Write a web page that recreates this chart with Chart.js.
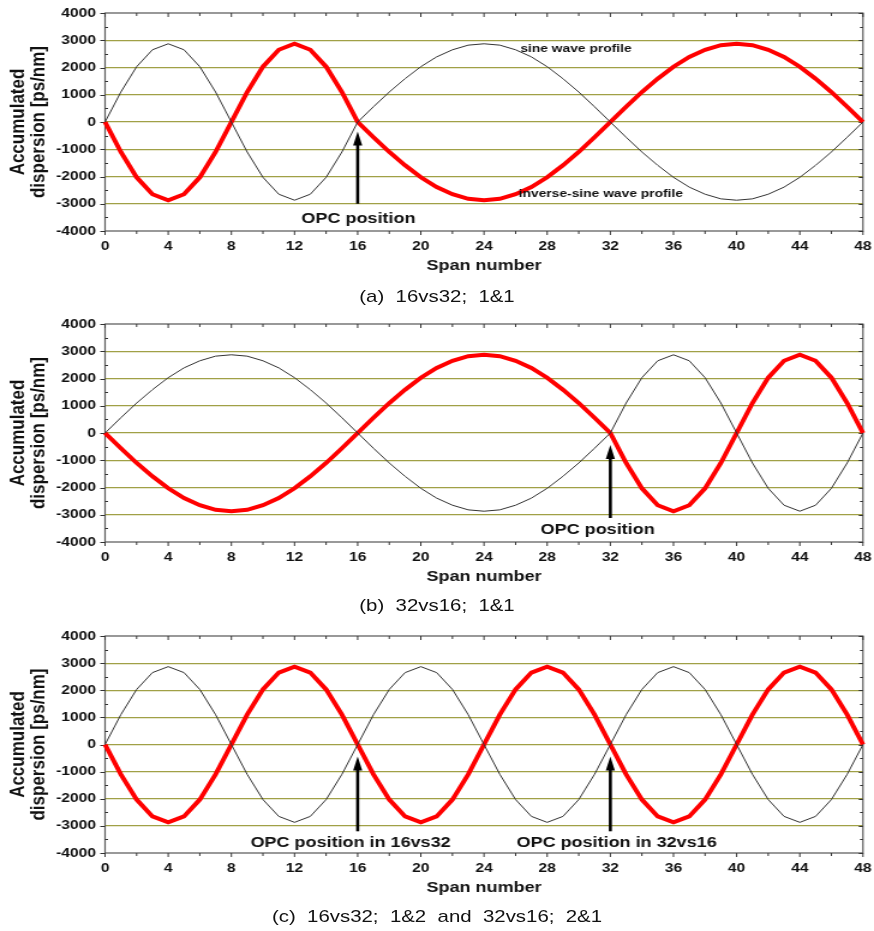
<!DOCTYPE html>
<html><head><meta charset="utf-8">
<script src="https://cdn.jsdelivr.net/npm/chart.js@4.4.1/dist/chart.umd.min.js"></script>
<style>
html,body{margin:0;background:#fff;width:874px;height:931px;overflow:hidden}
#page{position:absolute;left:0;top:0;width:728px;height:931px;transform:scaleX(1.2005495);transform-origin:0 0;font-family:"Liberation Sans",Arial,sans-serif}
.box{position:absolute;left:0;width:728px}
.cap{position:absolute;left:0;width:728px;text-align:center;font-size:17px;line-height:20px;white-space:pre;color:#111}
</style></head><body>
<div id="page">
<div class="box" style="top:0;height:275px"><canvas id="ca"></canvas></div>
<div class="cap" style="top:287px">(a)  16vs32;  1&amp;1</div>
<div class="box" style="top:311px;height:275px"><canvas id="cb"></canvas></div>
<div class="cap" style="top:596px">(b)  32vs16;  1&amp;1</div>
<div class="box" style="top:623px;height:274px"><canvas id="cc"></canvas></div>
<div class="cap" style="top:907px">(c)  16vs32;  1&amp;2  and  32vs16;  2&amp;1</div>
</div>
<script>
// ---- data ----
const spans = [0,1,2,3,4,5,6,7,8,9,10,11,12,13,14,15,16,17,18,19,20,21,22,23,24,25,26,27,28,29,30,31,32,33,34,35,36,37,38,39,40,41,42,43,44,45,46,47,48];
const xTickLabels = [0,4,8,12,16,20,24,28,32,36,40,44,48];
const yTickLabels = [-4000,-3000,-2000,-1000,0,1000,2000,3000,4000];

// (a) 16vs32; 1&1
const sineA = [0,1100,2030,2650,2870,2650,2030,1100,0,-1100,-2030,-2650,-2870,-2650,-2030,-1100,0,560,1100,1590,2030,2390,2650,2820,2870,2820,2650,2390,2030,1590,1100,560,0,-560,-1100,-1590,-2030,-2390,-2650,-2820,-2870,-2820,-2650,-2390,-2030,-1590,-1100,-560,0];
const invA  = [0,-1100,-2030,-2650,-2870,-2650,-2030,-1100,0,1100,2030,2650,2870,2650,2030,1100,0,-560,-1100,-1590,-2030,-2390,-2650,-2820,-2870,-2820,-2650,-2390,-2030,-1590,-1100,-560,0,560,1100,1590,2030,2390,2650,2820,2870,2820,2650,2390,2030,1590,1100,560,0];
// (b) 32vs16; 1&1
const sineB = [0,560,1100,1590,2030,2390,2650,2820,2870,2820,2650,2390,2030,1590,1100,560,0,-560,-1100,-1590,-2030,-2390,-2650,-2820,-2870,-2820,-2650,-2390,-2030,-1590,-1100,-560,0,1100,2030,2650,2870,2650,2030,1100,0,-1100,-2030,-2650,-2870,-2650,-2030,-1100,0];
const invB  = [0,-560,-1100,-1590,-2030,-2390,-2650,-2820,-2870,-2820,-2650,-2390,-2030,-1590,-1100,-560,0,560,1100,1590,2030,2390,2650,2820,2870,2820,2650,2390,2030,1590,1100,560,0,-1100,-2030,-2650,-2870,-2650,-2030,-1100,0,1100,2030,2650,2870,2650,2030,1100,0];
// (c) 16vs32; 1&2 and 32vs16; 2&1
const sineC = [0,1100,2030,2650,2870,2650,2030,1100,0,-1100,-2030,-2650,-2870,-2650,-2030,-1100,0,1100,2030,2650,2870,2650,2030,1100,0,-1100,-2030,-2650,-2870,-2650,-2030,-1100,0,1100,2030,2650,2870,2650,2030,1100,0,-1100,-2030,-2650,-2870,-2650,-2030,-1100,0];
const invC  = [0,-1100,-2030,-2650,-2870,-2650,-2030,-1100,0,1100,2030,2650,2870,2650,2030,1100,0,-1100,-2030,-2650,-2870,-2650,-2030,-1100,0,1100,2030,2650,2870,2650,2030,1100,0,-1100,-2030,-2650,-2870,-2650,-2030,-1100,0,1100,2030,2650,2870,2650,2030,1100,0];

// ---- styling ----
const FONT = '"Liberation Sans", Arial, sans-serif';
const OLIVE = 'rgb(160,160,70)';
const FRAME = '#555';

const decor = {
  id: 'decor',
  beforeDatasetsDraw(chart) {
    const {ctx, chartArea: a, scales: {x, y}} = chart;
    ctx.save();
    ctx.strokeStyle = FRAME; ctx.lineWidth = 1.2;
    ctx.strokeRect(a.left, a.top, a.right - a.left, a.bottom - a.top);
    ctx.lineWidth = 1; ctx.strokeStyle = '#333';
    ctx.beginPath();
    for (let v = 0; v <= 48; v += 2) {
      const px = x.getPixelForValue(v);
      const major = v % 4 === 0;
      ctx.moveTo(px, a.bottom); ctx.lineTo(px, a.bottom + (major ? 4 : 3));
      ctx.moveTo(px, a.top); ctx.lineTo(px, a.top + (major ? 4 : 3));
    }
    for (let v = -4000; v <= 4000; v += 500) {
      const py = Math.round(y.getPixelForValue(v)) + 0.5;
      const major = v % 1000 === 0;
      if (major) { ctx.moveTo(a.left - 4, py); ctx.lineTo(a.left, py); }
      else { ctx.moveTo(a.left, py); ctx.lineTo(a.left + 2.5, py); }
      ctx.moveTo(a.right, py); ctx.lineTo(a.right - (major ? 3.5 : 2.5), py);
    }
    ctx.stroke();
    ctx.restore();
  },
  afterDatasetsDraw(chart, args, opts) {
    const {ctx, scales: {x, y}} = chart;
    ctx.save();
    (opts.arrows || []).forEach(ar => {
      const px = x.getPixelForValue(ar.x);
      const y0 = y.getPixelForValue(ar.from);
      const y1 = y.getPixelForValue(ar.to);
      ctx.strokeStyle = '#000'; ctx.fillStyle = '#000'; ctx.lineWidth = 2.6;
      ctx.beginPath(); ctx.moveTo(px, y0); ctx.lineTo(px, y1 + 10); ctx.stroke();
      ctx.beginPath(); ctx.moveTo(px, y1); ctx.lineTo(px - 3.8, y1 + 14); ctx.lineTo(px + 3.8, y1 + 14); ctx.closePath(); ctx.fill();
    });
    (opts.texts || []).forEach(t => {
      ctx.font = t.font + ' ' + FONT;
      ctx.fillStyle = '#111';
      ctx.textAlign = t.align; ctx.textBaseline = 'middle';
      ctx.fillText(t.text, x.getPixelForValue(t.x), y.getPixelForValue(t.y));
    });
    ctx.restore();
  }
};

function makeChart(id, sine, inv, notes) {
  new Chart(document.getElementById(id), {
    type: 'line',
    data: {
      datasets: [
        { label: 'sine wave profile', data: spans.map((s, i) => ({x: s, y: sine[i]})),
          borderColor: '#333', borderWidth: 1, pointRadius: 0, tension: 0, clip: 6 },
        { label: 'inverse-sine wave profile', data: spans.map((s, i) => ({x: s, y: inv[i]})),
          borderColor: '#ff0000', borderWidth: 4, pointRadius: 0, tension: 0, clip: 6 }
      ]
    },
    options: {
      responsive: true, maintainAspectRatio: false, animation: false, devicePixelRatio: 1,
      layout: { padding: { top: 13, right: 9.2, left: 0, bottom: 0 } },
      plugins: { legend: { display: false }, tooltip: { enabled: false }, decor: notes },
      scales: {
        x: {
          type: 'linear', min: 0, max: 48,
          afterBuildTicks: s => { s.ticks = xTickLabels.map(v => ({value: v})); },
          afterFit: s => { s.height = 44; s.paddingLeft = 0; s.paddingRight = 0; },
          grid: { display: false, drawTicks: false },
          border: { display: false },
          ticks: { padding: 8, autoSkip: false, maxRotation: 0, color: '#111', callback: v => String(v),
                   font: { family: FONT, size: 13, weight: 'bold' } },
          title: { display: true, text: 'Span number', color: '#111', padding: 0,
                   font: { family: FONT, size: 15, weight: 'bold', lineHeight: 1.2 } }
        },
        y: {
          min: -4000, max: 4000,
          afterBuildTicks: s => { s.ticks = yTickLabels.map(v => ({value: v})); },
          afterFit: s => { s.width = 87.5; s.paddingTop = 0; s.paddingBottom = 0; },
          grid: { drawTicks: false, lineWidth: 1.2,
                  color: c => (c.tick && Math.abs(c.tick.value) < 4000) ? OLIVE : 'rgba(0,0,0,0)' },
          border: { display: false },
          ticks: { padding: 7.5, color: '#111', callback: v => String(v),
                   font: { family: FONT, size: 13, weight: 'bold' } },
          title: { display: true, text: ['Accumulated', 'dispersion [ps/nm]'], color: '#111', padding: { top: 6.5, bottom: 0 },
                   font: { family: FONT, size: 17, weight: 'bold', lineHeight: 1.0 } }
        }
      }
    },
    plugins: [decor]
  });
}

makeChart('ca', sineA, invA, {
  arrows: [{x: 16, from: -3000, to: -350}],
  texts: [
    {x: 16.05, y: -3560, text: 'OPC position', font: 'bold 15px', align: 'center'},
    {x: 26.3, y: 2680, text: 'sine wave profile', font: 'bold 11.5px', align: 'left'},
    {x: 26.2, y: -2640, text: 'inverse-sine wave profile', font: 'bold 11.5px', align: 'left'}
  ]
});
makeChart('cb', sineB, invB, {
  arrows: [{x: 32, from: -3120, to: -440}],
  texts: [ {x: 31.2, y: -3560, text: 'OPC position', font: 'bold 15px', align: 'center'} ]
});
makeChart('cc', sineC, invC, {
  arrows: [{x: 16, from: -3200, to: -440}, {x: 32, from: -3200, to: -440}],
  texts: [
    {x: 15.55, y: -3620, text: 'OPC position in 16vs32', font: 'bold 15px', align: 'center'},
    {x: 32.4, y: -3620, text: 'OPC position in 32vs16', font: 'bold 15px', align: 'center'}
  ]
});
</script>
</body></html>
